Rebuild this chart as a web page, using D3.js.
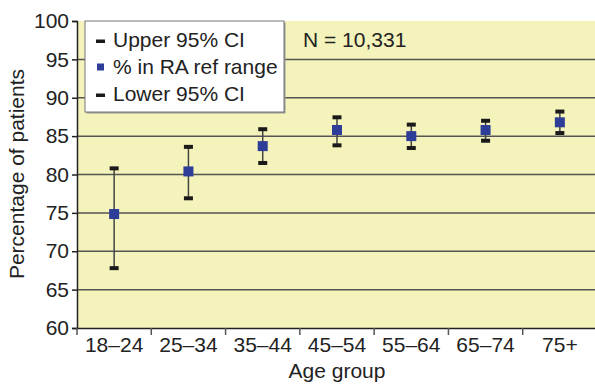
<!DOCTYPE html>
<html><head><meta charset="utf-8">
<script src="https://cdn.jsdelivr.net/npm/d3@7"></script>
<style>body{margin:0;background:#fff}svg{display:block;font-family:"Liberation Sans",Arial,sans-serif}</style>
</head><body><svg id="c" width="595" height="385"></svg>
<script>
const categories = ["18–24","25–34","35–44","45–54","55–64","65–74","75+"];
const pct   = [74.85, 80.4, 83.7, 85.8, 85.0, 85.8, 86.8];
const upper = [80.8, 83.6, 85.9, 87.45, 86.5, 87.0, 88.2];
const lower = [67.8, 76.9, 81.5, 83.8, 83.45, 84.4, 85.4];
const yTicks = [60,65,70,75,80,85,90,95,100];
const legendLabels = ["Upper 95% CI","% in RA ref range","Lower 95% CI"];
const note = "N = 10,331";

const svg = d3.select("#c");
const L=77, R=597, T=21, B=328;
const x = d3.scaleBand().domain(categories).range([L,R]).padding(0);
const y = d3.scaleLinear().domain([60,100]).range([B,T]);
const blue="#2e3d98";
const FS=21;

svg.append("rect").attr("x",L).attr("y",T).attr("width",R-L).attr("height",B-T).attr("fill","#f3f3bb");

svg.append("g").selectAll("line").data(yTicks.filter(d=>d>60&&d<100)).join("line")
  .attr("x1",L).attr("x2",R).attr("y1",d=>y(d)).attr("y2",d=>y(d))
  .attr("stroke","#555").attr("stroke-width",1.5);

const ya = svg.append("g").attr("transform",`translate(${L},0)`)
  .call(d3.axisLeft(y).tickValues(yTicks).tickSize(5).tickPadding(3));
ya.select(".domain").attr("stroke","#222").attr("stroke-width",1.5);
ya.selectAll(".tick line").attr("stroke","#222").attr("stroke-width",1.5);
ya.selectAll("text").attr("font-size",FS).attr("fill","#222").attr("font-family","Liberation Sans, Arial, sans-serif");

const xa = svg.append("g").attr("transform",`translate(0,${B})`)
  .call(d3.axisBottom(x).tickSize(0).tickPadding(9));
xa.select(".domain").attr("stroke","#222").attr("stroke-width",1.5);
xa.selectAll("text").attr("font-size",FS).attr("fill","#222").attr("dy","0.71em").attr("font-family","Liberation Sans, Arial, sans-serif");
svg.append("g").selectAll("line").data(categories).join("line")
  .attr("x1",d=>x(d)).attr("x2",d=>x(d)).attr("y1",B).attr("y2",B+7)
  .attr("stroke","#555").attr("stroke-width",1.5);

const eb = svg.append("g");
categories.forEach((c,i)=>{
  const cx = x(c)+x.bandwidth()/2;
  eb.append("line").attr("x1",cx).attr("x2",cx).attr("y1",y(upper[i])).attr("y2",y(lower[i]))
    .attr("stroke","#444").attr("stroke-width",1.5);
  [upper[i],lower[i]].forEach(v=>{
    eb.append("rect").attr("x",cx-4.5).attr("y",y(v)-2).attr("width",9).attr("height",4).attr("fill","#1a1a1a");
  });
  eb.append("rect").attr("x",cx-5).attr("y",y(pct[i])-5).attr("width",10).attr("height",10).attr("fill",blue);
});

const lg = svg.append("g");
lg.append("rect").attr("x",86.5).attr("y",22.5).attr("width",199).attr("height",91).attr("fill","#999");
lg.append("rect").attr("x",85).attr("y",21).attr("width",199).attr("height",91).attr("fill","#fff").attr("stroke","#777").attr("stroke-width",1);
legendLabels.forEach((t,i)=>{
  const by = 46.5 + i*27;
  if(i===1) lg.append("rect").attr("x",97).attr("y",by-10).attr("width",7).attr("height",7).attr("fill",blue);
  else lg.append("rect").attr("x",96).attr("y",by-7).attr("width",9).attr("height",3.5).attr("fill","#1a1a1a");
  lg.append("text").attr("x",113).attr("y",by).attr("font-size",FS).attr("fill","#222").text(t);
});

svg.append("text").attr("x",303).attr("y",47).attr("font-size",FS).attr("fill","#222").text(note);

svg.append("text").attr("x",337).attr("y",378).attr("text-anchor","middle").attr("font-size",FS).attr("fill","#222").text("Age group");
svg.append("text").attr("transform","translate(24,174) rotate(-90)").attr("text-anchor","middle").attr("font-size",FS).attr("fill","#222").text("Percentage of patients");
</script></body></html>
